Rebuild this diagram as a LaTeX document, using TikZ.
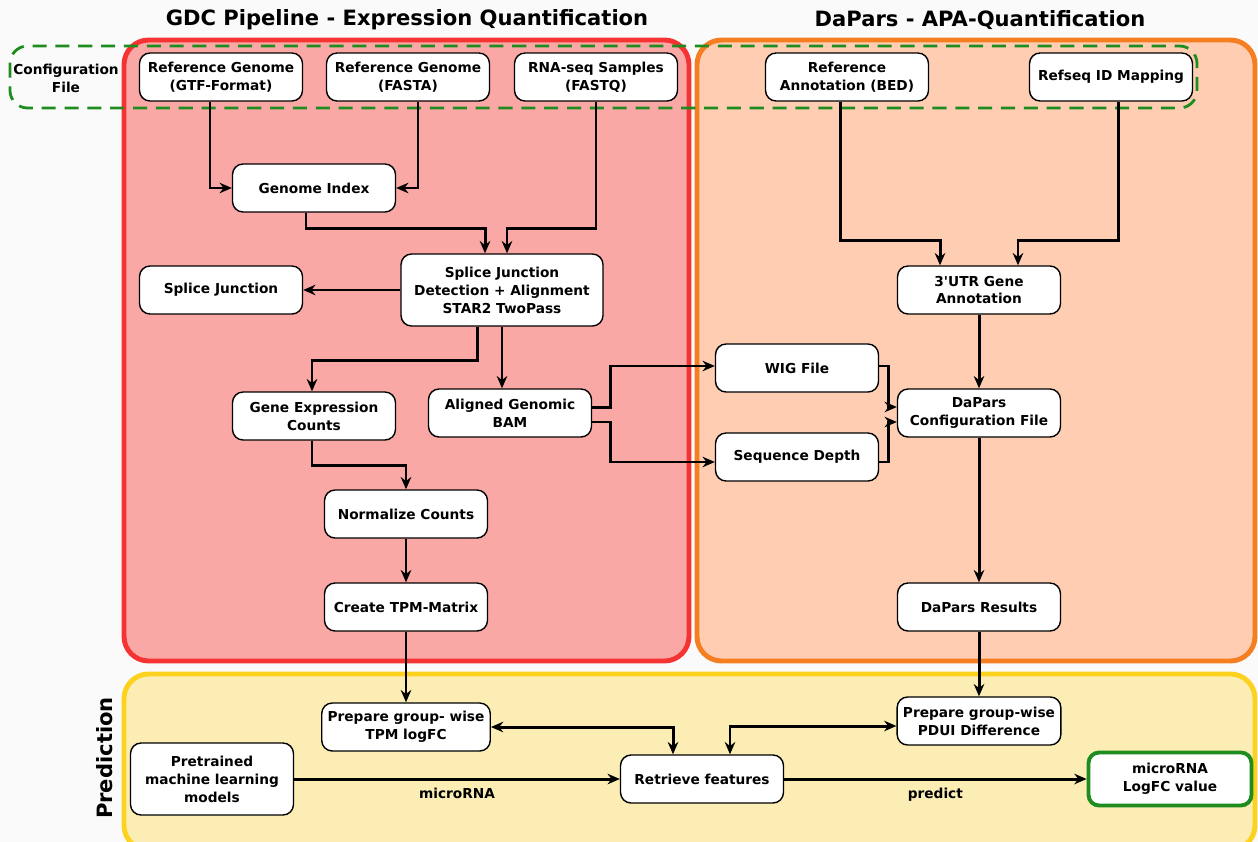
\documentclass[tikz,border=0pt]{standalone}
\usepackage{fontspec}
\setmainfont{DejaVu Sans}
\usetikzlibrary{arrows.meta,positioning}
\definecolor{pagebg}{HTML}{FAFAFA}
\definecolor{gdcfill}{HTML}{FAA8A6}
\definecolor{gdcline}{HTML}{F53333}
\definecolor{dapfill}{HTML}{FECDB2}
\definecolor{dapline}{HTML}{F57E20}
\definecolor{predfill}{HTML}{FBEDB3}
\definecolor{predline}{HTML}{FDD21F}
\definecolor{cfggreen}{HTML}{1E8C1E}

\begin{document}
\begin{tikzpicture}[
  x=0.02cm, y=-0.02cm,
  box/.style={
    rectangle, rounded corners=6pt,
    minimum width=3.26cm, minimum height=0.96cm,
    align=center, draw=black, line width=0.8pt,
    fill=white, font=\fontsize{7.8}{10.2}\selectfont\bfseries
  },
  bigbox/.style={box, minimum width=4.04cm, minimum height=1.44cm},
  panel/.style={rounded corners=14pt, line width=2.8pt},
  title/.style={font=\fontsize{12}{14}\selectfont\bfseries},
  arrow/.style={-{Stealth[length=7pt,width=6pt]}, line width=1.7pt},
  twoway/.style={{Stealth[length=7pt,width=6pt]}-{Stealth[length=7pt,width=6pt]}, line width=1.7pt}
]
\fill[pagebg] (0,0) rectangle (1258,842);
\useasboundingbox (0,0) rectangle (1258,842);
% Panels
\draw[panel, fill=gdcfill, draw=gdcline] (124,40) rectangle (689,661);
\draw[panel, fill=dapfill, draw=dapline] (697,40) rectangle (1255,661);
\draw[panel, fill=predfill, draw=predline] (124,674) rectangle (1255,850);
\draw[cfggreen, dashed, dash pattern=on 8pt off 5pt, line width=1.6pt, rounded corners=10pt] (10,46) rectangle (1197,108);
% Titles
\node[title] (gdctitle) at (407,20) {GDC Pipeline - Expression Quantification};
\node[title] (daptitle) at (980,20) {DaPars - APA-Quantification};
\node[font=\fontsize{7.8}{10.2}\selectfont\bfseries, align=center] (cfglabel) at (66,78) {Configuration\\File};
\node[font=\fontsize{12}{14}\selectfont\bfseries, rotate=90] (predlabel) at (105,758) {Prediction};
% Inputs
\node[box] (refgtf)   at (221,77)  {Reference Genome\\(GTF-Format)};
\node[box] (reffasta) at (408,77)  {Reference Genome\\(FASTA)};
\node[box] (rnaseq)   at (596,77)  {RNA-seq Samples\\(FASTQ)};
\node[box] (refbed)   at (847,77)  {Reference\\Annotation (BED)};
\node[box] (refseq)   at (1111,77) {Refseq ID Mapping};
% GDC column
\node[box] (genindex)  at (314,188) {Genome Index};
\node[bigbox] (splice) at (502,290) {Splice Junction\\Detection + Alignment\\STAR2 TwoPass};
\node[box] (splicej)   at (221,290) {Splice Junction};
\node[box] (geneexp)   at (314,416) {Gene Expression\\Counts};
\node[box] (aligned)   at (510,413) {Aligned Genomic\\BAM};
\node[box] (normalize) at (406,514) {Normalize Counts};
\node[box] (tpm)       at (406,607) {Create TPM-Matrix};
% DaPars column
\node[box] (utr)       at (979,290) {3\textquotesingle UTR Gene\\Annotation};
\node[box] (wig)       at (797,368) {WIG File};
\node[box] (seqdepth)  at (797,457) {Sequence Depth};
\node[box] (daparscfg) at (979,413) {DaPars\\Configuration File};
\node[box] (daparsres) at (979,607) {DaPars Results};
% Prediction
\node[box] (preptpm)    at (406,727) {Prepare group- wise\\TPM logFC};
\node[box] (preppdui)   at (979,721) {Prepare group-wise\\PDUI Difference};
\node[box, minimum height=1.44cm] (pretrained) at (212,779) {Pretrained\\machine learning\\models};
\node[box] (retrieve)   at (702,779) {Retrieve features};
\node[box, draw=cfggreen, line width=2.2pt, minimum height=1.06cm] (result) at (1170,779) {microRNA\\LogFC value};
% Arrows
\draw[arrow] ([xshift=-0.22cm]refgtf.south) |- (genindex.west);
\draw[arrow] ([xshift=0.2cm]reffasta.south) |- (genindex.east);
\draw[arrow] ([xshift=-0.16cm]genindex.south) -- ++(0,16) -| ([xshift=-0.34cm]splice.north);
\draw[arrow] (rnaseq.south) -- ++(0,127) -| ([xshift=0.1cm]splice.north);
\draw[arrow] (splice.west) -- (splicej.east);
\draw[arrow] ([xshift=-0.5cm]splice.south) -- ++(0,34) -| ([xshift=-0.04cm]geneexp.north);
\draw[arrow] (splice.south) -- (splice.south |- aligned.north);
\draw[arrow] ([yshift=0.12cm]aligned.east) -- ++(18,0) |- ([yshift=0.04cm]wig.west);
\draw[arrow] ([yshift=-0.18cm]aligned.east) -- ++(18,0) |- ([yshift=-0.1cm]seqdepth.west);
\draw[arrow] ([yshift=0.04cm]wig.east) -- ++(9,0) |- ([yshift=0.12cm]daparscfg.west);
\draw[arrow] ([yshift=-0.1cm]seqdepth.east) -- ++(9,0) |- ([yshift=-0.18cm]daparscfg.west);
\draw[arrow] ([xshift=-0.04cm]geneexp.south) -- ++(0,25) -| (normalize.north);
\draw[arrow] (normalize) -- (tpm);
\draw[arrow] (tpm.south) -- (preptpm.north);
\draw[arrow] ([xshift=-0.14cm]refbed.south) -- ++(0,139) -| ([xshift=-0.78cm]utr.north);
\draw[arrow] ([xshift=0.14cm]refseq.south) -- ++(0,139) -| ([xshift=0.78cm]utr.north);
\draw[arrow] (utr) -- (daparscfg);
\draw[arrow] (daparscfg) -- (daparsres);
\draw[arrow] (daparsres.south) -- (preppdui.north);
\draw[arrow] (pretrained.east) -- node[below=1pt, font=\fontsize{7.8}{10.2}\selectfont\bfseries] {microRNA} (retrieve.west);
\draw[arrow] (retrieve.east) -- node[below=1pt, font=\fontsize{7.8}{10.2}\selectfont\bfseries] {predict} (result.west);
\draw[twoway] ([xshift=-0.58cm]retrieve.north) |- (preptpm.east);
\draw[twoway] ([xshift=0.56cm]retrieve.north) |- ([yshift=-0.1cm]preppdui.west);
\end{tikzpicture}
\end{document}
